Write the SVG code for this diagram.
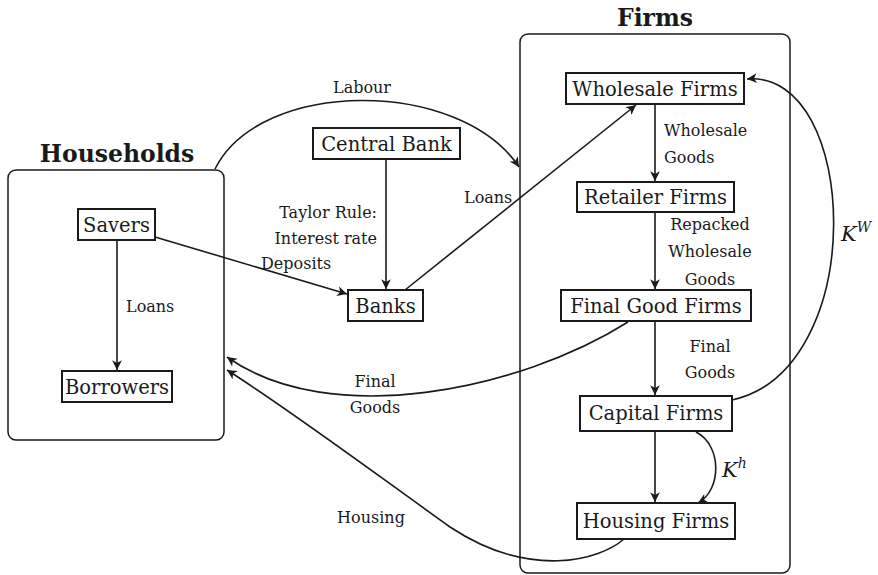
<svg xmlns="http://www.w3.org/2000/svg" width="878" height="575" viewBox="0 0 878 575">
<defs>
<marker id="ah" viewBox="-10 -6 12 12" refX="0" refY="0" markerWidth="13" markerHeight="13" markerUnits="userSpaceOnUse" orient="auto">
<path d="M0,0 L-9,-4.5 L-6.5,0 L-9,4.5 Z" fill="#1a1a1a"/>
</marker>
</defs>
<style>
text{fill:#1a1a1a;font-family:"DejaVu Serif",serif}
.title{font-size:23.5px;font-weight:bold;text-anchor:middle}
.node{font-size:19.5px;text-anchor:middle;dominant-baseline:central}
.lbl{font-size:16px}
.mid{text-anchor:middle}
.end{text-anchor:end}
.box{fill:#fff;stroke:#1a1a1a;stroke-width:2}
.grp{fill:none;stroke:#1a1a1a;stroke-width:1.5}
.edge{fill:none;stroke:#1a1a1a;stroke-width:1.6;marker-end:url(#ah)}
.math{font-style:italic}
</style>
<rect width="878" height="575" fill="#fff"/>
<g id="households">
<rect class="grp" x="8" y="170" width="216" height="270" rx="8"/>
<text class="title" x="117" y="162">Households</text>
</g>
<g id="firms">
<rect class="grp" x="520" y="34" width="270" height="539" rx="8"/>
<text class="title" x="655" y="26">Firms</text>
</g>

<g id="connectors">
<path class="edge" d="M117,240 L117,370"/>
<path class="edge" d="M386,159 L386,289"/>
<path class="edge" d="M155,237 L347,294"/>
<path class="edge" d="M405,290 L636,105"/>
<path class="edge" d="M215,169 C260,78 460,78 519,167"/>
<path class="edge" d="M655,104 L655,181"/>
<path class="edge" d="M655,212 L655,289"/>
<path class="edge" d="M655,321 L655,395"/>
<path class="edge" d="M655,431 L655,502"/>
<path class="edge" d="M628,322 C520,390 330,430 227,357"/>
<path class="edge" d="M624,539 C600,560 530,580 450,527 C380,477 290,410 227,370"/>
<path class="edge" d="M732,400 C870,370 860,70 747,79"/>
<path class="edge" d="M696,432 C722,445 722,490 698,503"/>
<text class="lbl" x="126" y="312">Loans</text>
<text class="lbl end" x="377" y="218">Taylor Rule:</text>
<text class="lbl end" x="377" y="244">Interest rate</text>
<text class="lbl" x="261" y="269">Deposits</text>
<text class="lbl" x="464" y="203">Loans</text>
<text class="lbl mid" x="362" y="93">Labour</text>
<text class="lbl" x="664" y="136">Wholesale</text>
<text class="lbl" x="664" y="163">Goods</text>
<text class="lbl mid" x="710" y="230">Repacked</text>
<text class="lbl mid" x="710" y="257">Wholesale</text>
<text class="lbl mid" x="710" y="285">Goods</text>
<text class="lbl mid" x="710" y="352">Final</text>
<text class="lbl mid" x="710" y="378">Goods</text>
<text class="lbl mid" x="375" y="387">Final</text>
<text class="lbl mid" x="375" y="413">Goods</text>
<text class="lbl mid" x="371" y="523">Housing</text>
<text x="841" y="241" font-size="21" class="math">K<tspan font-size="14" dy="-9">W</tspan></text>
<text x="722" y="477" font-size="21" class="math">K<tspan font-size="14" dy="-9">h</tspan></text>
</g>

<g id="savers"><rect class="box" x="78" y="209" width="77" height="31"/><text class="node" x="116.5" y="225">Savers</text></g>
<g id="borrowers"><rect class="box" x="62" y="371" width="110" height="31"/><text class="node" x="117" y="387">Borrowers</text></g>
<g id="central-bank"><rect class="box" x="313" y="128" width="147" height="31"/><text class="node" x="386.5" y="144">Central Bank</text></g>
<g id="banks"><rect class="box" x="348" y="290" width="75" height="31"/><text class="node" x="385.5" y="306">Banks</text></g>
<g id="wholesale-firms"><rect class="box" x="566" y="73" width="178" height="31"/><text class="node" x="655" y="89">Wholesale Firms</text></g>
<g id="retailer-firms"><rect class="box" x="577" y="182" width="157" height="30"/><text class="node" x="655.5" y="197">Retailer Firms</text></g>
<g id="final-good-firms"><rect class="box" x="561" y="290" width="190" height="31"/><text class="node" x="656" y="306">Final Good Firms</text></g>
<g id="capital-firms"><rect class="box" x="580" y="396" width="152" height="35"/><text class="node" x="656" y="413">Capital Firms</text></g>
<g id="housing-firms"><rect class="box" x="577" y="503" width="158" height="36"/><text class="node" x="656" y="521">Housing Firms</text></g>
</svg>
